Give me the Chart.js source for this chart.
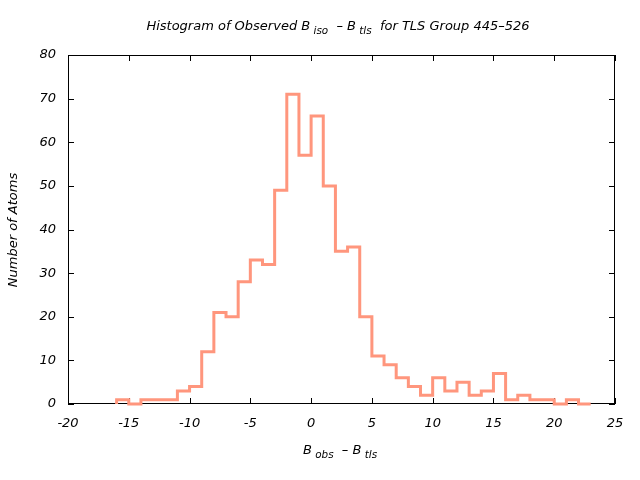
<!DOCTYPE html>
<html>
<head>
<meta charset="utf-8">
<script src="https://cdn.jsdelivr.net/npm/chart.js@4"></script>
<style>
  body { margin: 0; background: #fff; }
  #wrap { width: 640px; height: 480px; }
</style>
</head>
<body>
<div id="wrap"><canvas id="histCanvas" width="640" height="480"></canvas></div>
<script>
// left edge of each 1-unit bin, and the number of atoms in it
const binStarts = [-16, -15, -14, -13, -12, -11, -10, -9, -8, -7, -6, -5, -4, -3, -2, -1,
                   0, 1, 2, 3, 4, 5, 6, 7, 8, 9, 10, 11, 12, 13, 14, 15, 16, 17, 18, 19, 20, 21, 22];
const counts = [1, 0, 1, 1, 1, 3, 4, 12, 21, 20, 28, 33, 32, 49, 71, 57,
                66, 50, 35, 36, 20, 11, 9, 6, 4, 2, 6, 3, 5, 2, 3, 7, 1, 2, 1, 1, 0, 1, 0];
const lastEdge = 23;
const xTicks = [-20, -15, -10, -5, 0, 5, 10, 15, 20, 25];
const yTicks = [0, 10, 20, 30, 40, 50, 60, 70, 80];

const FONT = "'DejaVu Sans', sans-serif";

// each bin: horizontal at its count, then step at the next edge
const points = [{x: binStarts[0], y: 0}, {x: binStarts[0], y: counts[0]}];
for (let i = 0; i < binStarts.length; i++) {
  const next = i + 1 < binStarts.length ? binStarts[i + 1] : lastEdge;
  points.push({x: next, y: counts[i]});
  if (i + 1 < binStarts.length) points.push({x: next, y: counts[i + 1]});
}

// draw text made of pieces, some of them subscript
function richText(ctx, parts, cx, cy, size, rotate) {
  ctx.save();
  ctx.translate(cx, cy);
  if (rotate) ctx.rotate(-Math.PI / 2);
  let total = 0;
  parts.forEach(p => {
    ctx.font = "italic " + (p.sub ? size * 0.8 : size) + "px " + FONT;
    total += ctx.measureText(p.t).width;
  });
  let x = -total / 2;
  ctx.fillStyle = '#000';
  ctx.textBaseline = 'middle';
  ctx.textAlign = 'left';
  parts.forEach(p => {
    ctx.font = "italic " + (p.sub ? size * 0.8 : size) + "px " + FONT;
    ctx.fillText(p.t, x, p.sub ? size * 0.3 : 0);
    x += ctx.measureText(p.t).width;
  });
  ctx.restore();
}

const framePlugin = {
  id: 'frame',
  beforeDatasetsDraw(chart) {
    const ctx = chart.ctx;
    const a = chart.chartArea;
    const xs = chart.scales.x, ys = chart.scales.y;
    ctx.save();
    ctx.strokeStyle = '#000';
    ctx.lineWidth = 1;
    ctx.strokeRect(a.left + 0.5, a.top + 0.5, a.right - a.left - 1, a.bottom - a.top - 1);
    ctx.beginPath();
    xTicks.forEach(v => {
      const px = Math.round(xs.getPixelForValue(v)) + 0.5;
      ctx.moveTo(px, a.bottom); ctx.lineTo(px, a.bottom - 6);
      ctx.moveTo(px, a.top); ctx.lineTo(px, a.top + 6);
    });
    yTicks.forEach(v => {
      const py = Math.round(ys.getPixelForValue(v)) + 0.5;
      ctx.moveTo(a.left, py); ctx.lineTo(a.left + 6, py);
      ctx.moveTo(a.right, py); ctx.lineTo(a.right - 6, py);
    });
    ctx.stroke();
    ctx.restore();

    richText(ctx, [{t: 'Histogram of Observed B'}, {t: ' iso', sub: true}, {t: '  \u2013 B'},
                   {t: ' tls', sub: true}, {t: '  for TLS Group 445\u2013526'}], 338, 27, 13, false);
    richText(ctx, [{t: 'B'}, {t: ' obs', sub: true}, {t: '  \u2013 B'}, {t: ' tls', sub: true}],
             340, 451, 13, false);
    richText(ctx, [{t: 'Number of Atoms'}], 14, 230, 13, true);
  }
};

new Chart(document.getElementById('histCanvas'), {
  type: 'line',
  data: {
    datasets: [{
      data: points,
      borderColor: 'rgb(255,150,125)',
      borderWidth: 3,
      borderJoinStyle: 'miter',
      pointRadius: 0,
      fill: false,
      clip: false
    }]
  },
  options: {
    responsive: false,
    animation: false,
    layout: { padding: { top: 55, right: 25, left: 0, bottom: 0 } },
    plugins: { legend: { display: false }, tooltip: { enabled: false } },
    scales: {
      x: {
        type: 'linear', min: -20, max: 25,
        afterBuildTicks: s => { s.ticks = xTicks.map(v => ({value: v})); },
        afterFit: s => { s.height = 76; },
        grid: { display: false, drawTicks: false },
        border: { display: false },
        ticks: { padding: 12, color: '#000', font: { family: FONT, size: 13, style: 'italic' } }
      },
      y: {
        min: 0, max: 80,
        afterBuildTicks: s => { s.ticks = yTicks.map(v => ({value: v})); },
        afterFit: s => { s.width = 68; },
        grid: { display: false, drawTicks: false },
        border: { display: false },
        ticks: { padding: 12, color: '#000', font: { family: FONT, size: 13, style: 'italic' } }
      }
    }
  },
  plugins: [framePlugin]
});
</script>
</body>
</html>
